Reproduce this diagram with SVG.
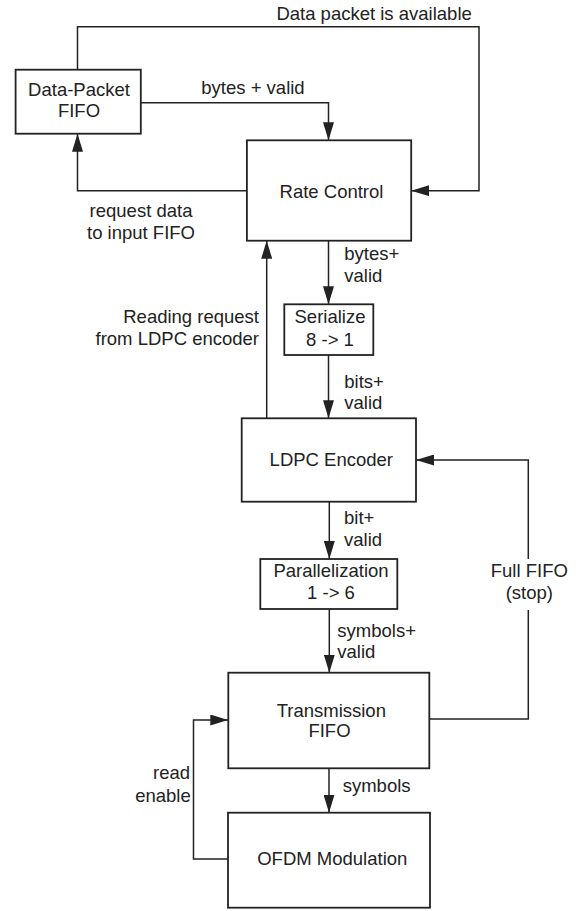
<svg xmlns="http://www.w3.org/2000/svg" width="584" height="911" viewBox="0 0 584 911">
<style>
.box{fill:#fff;stroke:#222;stroke-width:1.8}
.c{fill:none;stroke:#222;stroke-width:1.5}
text{font-family:"Liberation Sans",Arial,sans-serif;font-size:18.5px;fill:#222}
.m{text-anchor:middle}
.e{text-anchor:end}
</style>
<defs>
<marker id="arr" markerUnits="userSpaceOnUse" viewBox="0 0 18 11" refX="18" refY="5.5" markerWidth="18" markerHeight="11" orient="auto">
<path d="M0,0 L18,5.5 L0,11 z" fill="#222"/>
</marker>
</defs>
<rect width="584" height="911" fill="#fff"/>
<g id="connectors">
<path class="c" d="M77.5,69.7 V26.7 H479 V190.7 H411.2" marker-end="url(#arr)"/>
<path class="c" d="M140.8,102.7 H328.5 V140.3" marker-end="url(#arr)"/>
<path class="c" d="M246.9,190.7 H77.5 V133.7" marker-end="url(#arr)"/>
<path class="c" d="M328.5,240.7 V304.3" marker-end="url(#arr)"/>
<path class="c" d="M328.5,355 V418.3" marker-end="url(#arr)"/>
<path class="c" d="M266.7,418.3 V240.7" marker-end="url(#arr)"/>
<path class="c" d="M329.3,501.7 V559" marker-end="url(#arr)"/>
<path class="c" d="M329.3,609 V672.7" marker-end="url(#arr)"/>
<path class="c" d="M429.3,719 H528.3 V610"/>
<path class="c" d="M528.3,559 V460 H416" marker-end="url(#arr)"/>
<path class="c" d="M329,768.3 V812.7" marker-end="url(#arr)"/>
<path class="c" d="M228,859 H193.5 V720 H228.3" marker-end="url(#arr)"/>
<text x="276.4" y="20">Data packet is available</text>
<text x="253" y="94" class="m">bytes + valid</text>
<text x="141" y="217" class="m">request data</text>
<text x="141" y="239" class="m">to input FIFO</text>
<text x="344.3" y="260">bytes+</text>
<text x="344.3" y="281.7">valid</text>
<text x="259" y="323" class="e">Reading request</text>
<text x="259" y="345" class="e">from LDPC encoder</text>
<text x="344.3" y="387.7">bits+</text>
<text x="344.3" y="409.3">valid</text>
<text x="344" y="524.3">bit+</text>
<text x="344" y="546">valid</text>
<text x="529.3" y="577.3" class="m">Full FIFO</text>
<text x="529.3" y="599" class="m">(stop)</text>
<text x="337.3" y="636.7">symbols+</text>
<text x="337.3" y="658.3">valid</text>
<text x="342.7" y="791.7">symbols</text>
<text x="190" y="779.3" class="e">read</text>
<text x="190.7" y="801.7" class="e">enable</text>
</g>
<g id="data-packet-fifo">
<rect class="box" x="15.6" y="69.7" width="125.2" height="64"/>
<text x="79" y="96" class="m">Data-Packet</text>
<text x="79" y="117" class="m">FIFO</text>
</g>
<g id="rate-control">
<rect class="box" x="246.9" y="140.3" width="164.3" height="100.4"/>
<text x="331.5" y="198" class="m">Rate Control</text>
</g>
<g id="serialize">
<rect class="box" x="284.3" y="304.3" width="89" height="50.7"/>
<text x="330" y="323.3" class="m">Serialize</text>
<text x="330" y="345.7" class="m">8 -&gt; 1</text>
</g>
<g id="ldpc-encoder">
<rect class="box" x="241.7" y="418.3" width="174.3" height="83.4"/>
<text x="331.3" y="466" class="m">LDPC Encoder</text>
</g>
<g id="parallelization">
<rect class="box" x="260.3" y="559" width="137" height="50"/>
<text x="331" y="577.3" class="m">Parallelization</text>
<text x="331" y="599" class="m">1 -&gt; 6</text>
</g>
<g id="transmission-fifo">
<rect class="box" x="228.3" y="672.7" width="201" height="95.6"/>
<text x="331.3" y="716.7" class="m">Transmission</text>
<text x="329.5" y="736.7" class="m">FIFO</text>
</g>
<g id="ofdm-modulation">
<rect class="box" x="228" y="812.7" width="202" height="95"/>
<text x="332.3" y="865" class="m">OFDM Modulation</text>
</g>
</svg>
